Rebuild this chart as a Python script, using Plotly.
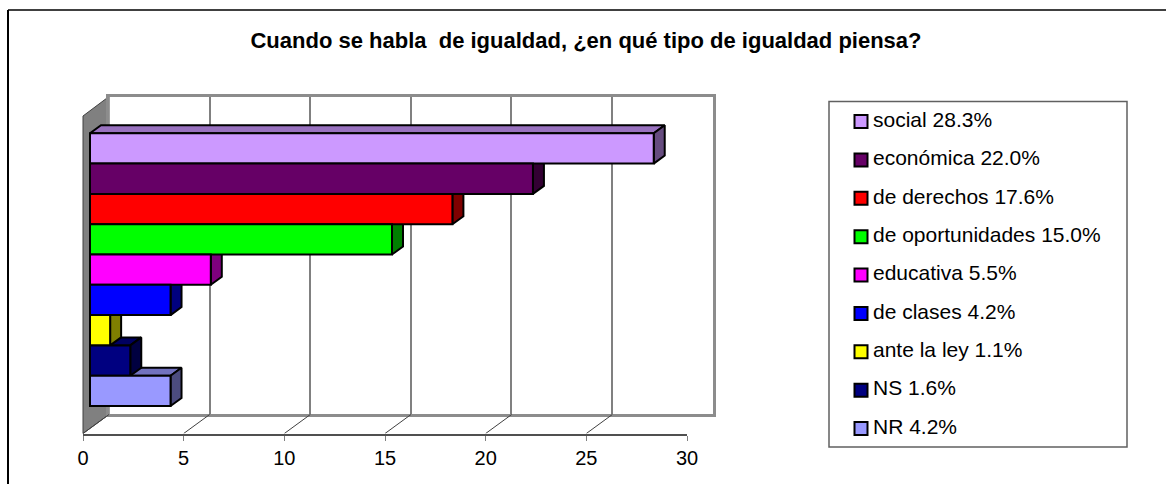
import plotly.graph_objects as go

TITLE = "Cuando se habla  de igualdad, ¿en qué tipo de igualdad piensa?"
labels = ["social 28.3%", "económica 22.0%", "de derechos 17.6%", "de oportunidades 15.0%",
          "educativa 5.5%", "de clases 4.2%", "ante la ley 1.1%", "NS 1.6%", "NR 4.2%"]
values = [28, 22, 18, 15, 6, 4, 1, 2, 4]
front = ["#CC99FF", "#660066", "#FF0000", "#00FF00", "#FF00FF", "#0000FF", "#FFFF00", "#000080", "#9999FF"]
ticks = [0, 5, 10, 15, 20, 25, 30]

W, H = 1166, 484
def px(v): return v / W
def py(v): return 1 - v / H
PXU = (687 - 83) / 30.0       # px per value unit
BAR_H = 30.3                  # px per category
Y_TOP, Y_BOT = 96.5, 433.5    # front axes extent
BAR_TOP = 133.3
BASE = 7 / PXU                # bars start a little in front of the axis
DX = 11 / PXU                 # bar depth in value units
DY = 8 / BAR_H                # bar depth in category units
FX = 26 / PXU                 # floor depth
y0 = -0.5 - (BAR_TOP - Y_TOP) / BAR_H
y1 = -0.5 + (Y_BOT - BAR_TOP) / BAR_H
FY = 19 / BAR_H
LEG_W = 266.0                 # px width of the legend plot

def shade(c, f):
    r, g, b = int(c[1:3], 16), int(c[3:5], 16), int(c[5:7], 16)
    return "#%02X%02X%02X" % (int(r * f), int(g * f), int(b * f))

fig = go.Figure()
# back wall axes need one trace to exist
fig.add_trace(go.Scatter(x=[0], y=[0], mode="markers", marker=dict(opacity=0), showlegend=False,
                         hoverinfo="skip", xaxis="x", yaxis="y"))
# floor diagonals
dx, dy = [], []
for t in ticks:
    dx += [t, t + FX, None]
    dy += [y1, y1 - FY, None]
fig.add_trace(go.Scatter(x=dx, y=dy, mode="lines", line=dict(color="#404040", width=1), showlegend=False,
                         hoverinfo="skip", cliponaxis=False, xaxis="x2", yaxis="y2"))
# 3D faces, drawn bottom-to-top so upper bars overlap correctly
order = list(range(len(values)))[::-1]
for i in order:
    v = values[i]
    xr = BASE + v
    fig.add_trace(go.Scatter(x=[BASE, BASE + DX, xr + DX, xr, BASE], y=[i - .5, i - .5 - DY, i - .5 - DY, i - .5, i - .5],
                             mode="lines", fill="toself", fillcolor=shade(front[i], .75),
                             line=dict(color="black", width=2), showlegend=False, hoverinfo="skip",
                             xaxis="x2", yaxis="y2"))
    fig.add_trace(go.Scatter(x=[xr, xr + DX, xr + DX, xr, xr], y=[i - .5, i - .5 - DY, i + .5 - DY, i + .5, i - .5],
                             mode="lines", fill="toself", fillcolor=shade(front[i], .5),
                             line=dict(color="black", width=2), showlegend=False, hoverinfo="skip",
                             xaxis="x2", yaxis="y2"))
# front faces: on their own overlapping axes, so they sit above every depth face
for i, (n, v, c) in enumerate(zip(labels, values, front)):
    fig.add_trace(go.Bar(y=[i], x=[v], base=BASE, orientation="h", width=1, name=n, showlegend=False,
                         marker=dict(color=c, line=dict(color="black", width=2)),
                         xaxis="x4", yaxis="y4"))
# legend, as a small plot of its own
for i, (n, c) in enumerate(zip(labels, front)):
    fig.add_trace(go.Scatter(x=[0], y=[i], mode="markers",
                             marker=dict(symbol="square", size=13, color=c, line=dict(color="black", width=2)),
                             cliponaxis=False, showlegend=False, name=n, hoverinfo="skip", xaxis="x3", yaxis="y3"))
    fig.add_trace(go.Scatter(x=[12 / LEG_W], y=[i], mode="text", text=[n], textposition="middle right",
                             textfont=dict(size=21), cliponaxis=False, showlegend=False, name=n,
                             hoverinfo="skip", xaxis="x3", yaxis="y3"))

shapes = [
    # side wall
    dict(type="path", xref="paper", yref="paper", layer="below",
         path=f"M {px(83)} {py(116)} L {px(109)} {py(96.5)} L {px(109)} {py(414.5)} L {px(83)} {py(433.5)} Z",
         fillcolor="#808080", line=dict(color="#404040", width=1)),
    # outer frame
    dict(type="line", xref="paper", yref="paper", x0=px(8), x1=px(1166), y0=py(10), y1=py(10), line=dict(color="#404040", width=2)),
    dict(type="line", xref="paper", yref="paper", x0=px(8), x1=px(8), y0=py(10), y1=py(484), line=dict(color="black", width=2)),
    # legend box
    dict(type="rect", xref="paper", yref="paper", x0=px(829), x1=px(1127), y0=py(101.5), y1=py(447),
         line=dict(color="#606060", width=1.5)),
]

hidden = dict(showticklabels=False, showgrid=False, ticks="", showline=False, zeroline=False)

fig.update_layout(
    width=W, height=H, margin=dict(l=0, r=0, t=0, b=0, autoexpand=False),
    paper_bgcolor="white", plot_bgcolor="rgba(0,0,0,0)",
    font=dict(family="Liberation Sans", color="black", size=20),
    barmode="overlay", shapes=shapes, showlegend=False,
    title=dict(text="<b>" + TITLE + "</b>", font=dict(size=22), x=586 / W, xanchor="center", y=py(40), yanchor="middle"),
    xaxis=dict(domain=[px(109), px(712.5)], range=[0, 30], tickvals=ticks, showticklabels=False, showgrid=True,
               gridcolor="#808080", gridwidth=1.5, ticks="", mirror=True, showline=True, linecolor="#8C8C8C", linewidth=2.5,
               zeroline=False, anchor="y"),
    yaxis=dict(domain=[py(413.5), py(97)], range=[0, 1], anchor="x", showticklabels=False, showgrid=False, ticks="",
               zeroline=False, showline=True, mirror=True, linecolor="#8C8C8C", linewidth=2.5),
    xaxis2=dict(domain=[px(83), px(687)], range=[0, 30], tickvals=ticks, ticks="outside", ticklen=5, tickcolor="#808080",
                showgrid=False, showline=True, linecolor="#505050", linewidth=2, zeroline=False, anchor="y2",
                tickfont=dict(size=20)),
    yaxis2=dict(domain=[py(Y_BOT), py(Y_TOP)], range=[y1, y0], anchor="x2", **hidden),
    xaxis3=dict(domain=[px(861), px(1127)], range=[0, 1], anchor="y3", **hidden),
    yaxis3=dict(domain=[py(428.5), py(121.5)], range=[8, 0], anchor="x3", **hidden),
    xaxis4=dict(domain=[px(83), px(687)], range=[0, 30], anchor="y4", **hidden),
    yaxis4=dict(domain=[py(Y_BOT), py(Y_TOP)], range=[y1, y0], anchor="x4", **hidden),
)
fig.write_html("out.html", config=dict(displayModeBar=False),
               post_script="document.body.style.margin='0';document.body.style.overflow='hidden';")
